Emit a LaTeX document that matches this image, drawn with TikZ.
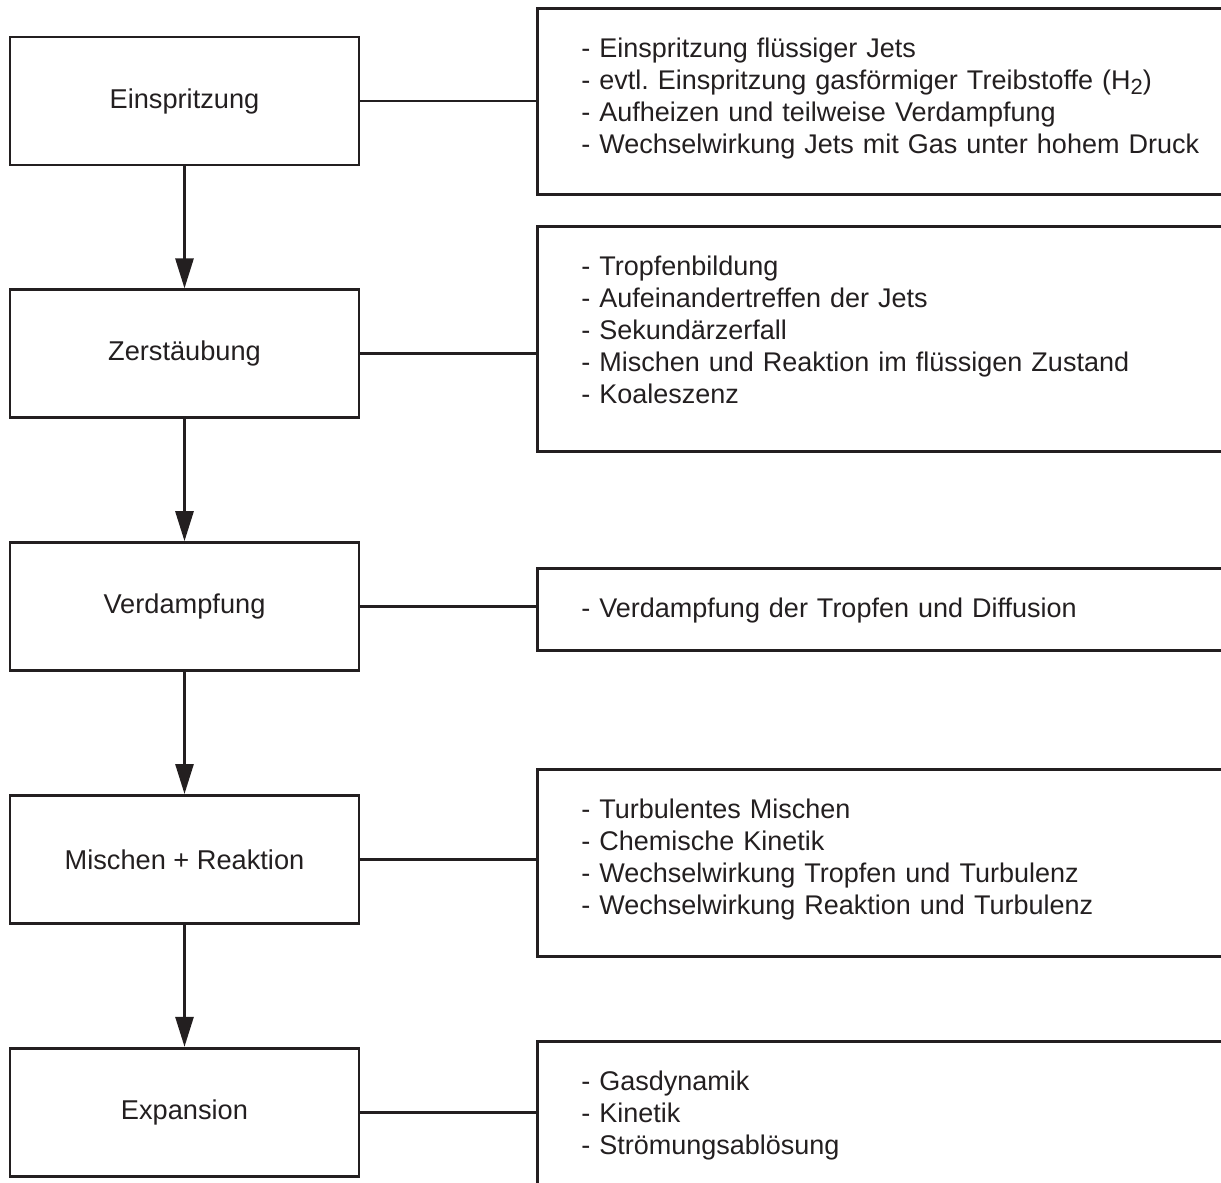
\documentclass[tikz,border=0pt]{standalone}
\usepackage{fontspec}
\setmainfont{Liberation Sans}
\usepackage{xcolor}
\usetikzlibrary{positioning,arrows.meta}
\definecolor{ink}{RGB}{35,31,32}
\frenchspacing
\tikzset{
	stage/.style = {
		draw=ink, rectangle, line width=1.4pt, minimum width=174.5pt, minimum height=64pt, inner sep=0pt, text=ink, font=\fontsize{13.6}{16}\selectfont
	}
}
\tikzset{
	details/.style = {
		draw=ink, rectangle, line width=1.4pt, anchor=north west, align=left, text width=316pt, inner xsep=22pt, inner ysep=14.5pt, text height=10pt, text=ink, font=\fontsize{13.5}{16}\selectfont
	}
}
\tikzset{
	flow/.style = {
		draw=ink, line width=1.4pt, -{Triangle[length=15pt, width=9pt]}
	}
}
\tikzset{
	link/.style = {
		draw=ink, line width=1.4pt
	}
}

\begin{document}
\begin{tikzpicture}[x=0.5pt, y=-0.5pt]
	\useasboundingbox (0,0) rectangle (1221,1183);
	\clip (0,0) rectangle (1221,1183);
	\node[stage](Einspritzung) at (184.5,101) {Einspritzung};
	\node[stage, below=61pt of Einspritzung](Zerstaeubung){Zerstäubung};
	\node[stage, below=61pt of Zerstaeubung](Verdampfung){Verdampfung};
	\node[stage, below=61pt of Verdampfung](Mischen){Mischen + Reaktion};
	\node[stage, below=61pt of Mischen](Expansion){Expansion};
	\node[details, text depth=54pt](EinspritzungInfo) at (536,7){
		- Einspritzung flüssiger Jets\\
		- evtl. Einspritzung gasförmiger Treibstoffe (H\raisebox{-2.5pt}{\fontsize{11}{11}\selectfont 2})\\
		- Aufheizen und teilweise Verdampfung\\
		- Wechselwirkung Jets mit Gas unter hohem Druck};
	\node[details, text depth=73.5pt](ZerstaeubungInfo) at (536,225){
		- Tropfenbildung\\
		- Aufeinandertreffen der Jets\\
		- Sekundärzerfall\\
		- Mischen und Reaktion im flüssigen Zustand\\
		- Koaleszenz};
	\node[details, text depth=2pt](VerdampfungInfo) at (536,567){
		- Verdampfung der Tropfen und Diffusion};
	\node[details, text depth=54.5pt](MischenInfo) at (536,768){
		- Turbulentes Mischen\\
		- Chemische Kinetik\\
		- Wechselwirkung Tropfen und Turbulenz\\
		- Wechselwirkung Reaktion und Turbulenz};
	\node[details, text depth=61pt](ExpansionInfo) at (536,1040){
		- Gasdynamik\\
		- Kinetik\\
		- Strömungsablösung};
	\draw[flow] (Einspritzung) -- (Zerstaeubung);
	\draw[flow] (Zerstaeubung) -- (Verdampfung);
	\draw[flow] (Verdampfung) -- (Mischen);
	\draw[flow] (Mischen) -- (Expansion);
	\draw[link] (Einspritzung.east) -- (Einspritzung.east -| EinspritzungInfo.west);
	\draw[link] (Zerstaeubung.east) -- (Zerstaeubung.east -| ZerstaeubungInfo.west);
	\draw[link] (Verdampfung.east) -- (Verdampfung.east -| VerdampfungInfo.west);
	\draw[link] (Mischen.east) -- (Mischen.east -| MischenInfo.west);
	\draw[link] (Expansion.east) -- (Expansion.east -| ExpansionInfo.west);
\end{tikzpicture}
\end{document}
